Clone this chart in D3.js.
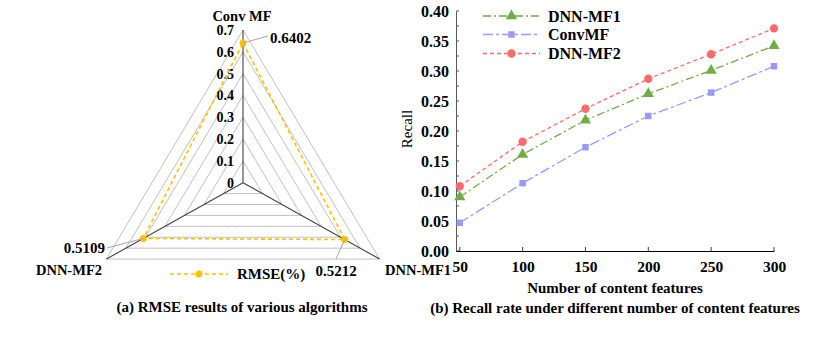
<!DOCTYPE html>
<html><head><meta charset="utf-8">
<script src="https://cdn.jsdelivr.net/npm/d3@7/dist/d3.min.js"></script>
<style>
body{margin:0;background:#fff;}
svg text{font-family:"Liberation Serif","Times New Roman","DejaVu Serif",serif;}
</style></head>
<body><svg id="c" width="814" height="358"></svg>
<script>
// ---------- data ----------
const radarCategories = ["Conv MF", "DNN-MF1", "DNN-MF2"];
const radarValues = [0.6402, 0.5212, 0.5109];
const radarTicks = [0, 0.1, 0.2, 0.3, 0.4, 0.5, 0.6, 0.7];
const radarSeriesName = "RMSE(%)";

const featureCounts = [50, 100, 150, 200, 250, 300];
const recallDNNMF1 = [0.090, 0.161, 0.218, 0.262, 0.301, 0.342];
const recallConvMF = [0.047, 0.113, 0.173, 0.225, 0.264, 0.308];
const recallDNNMF2 = [0.108, 0.182, 0.237, 0.287, 0.328, 0.371];
const recallTicks = [0, 0.05, 0.1, 0.15, 0.2, 0.25, 0.3, 0.35, 0.4];
const seriesNames = ["DNN-MF1", "ConvMF", "DNN-MF2"];

const FONT = '"Liberation Serif","Times New Roman","DejaVu Serif",serif';
const svg = d3.select("#c").attr("font-family", FONT);

// ---------- (a) radar ----------
const cx = 243, cy = 182.7, R = 152.7, kx = 1.033;
const rScale = d3.scaleLinear().domain([0, 0.7]).range([0, R]);
const ang = i => i * 2 * Math.PI / 3;
const pt = (i, v) => [cx + rScale(v) * Math.sin(ang(i)) * kx, cy - rScale(v) * Math.cos(ang(i))];

const ga = svg.append("g");
// grid triangles
radarTicks.slice(1).forEach(t => {
  ga.append("path")
    .attr("d", d3.line()([0,1,2,0].map(i => pt(i, t))))
    .attr("fill", "none").attr("stroke", "#c0c0c0").attr("stroke-width", 1);
});
// spokes
[0,1,2].forEach(i => {
  const p = pt(i, 0.7);
  ga.append("line").attr("x1", cx).attr("y1", cy).attr("x2", p[0]).attr("y2", p[1])
    .attr("stroke", "#404040").attr("stroke-width", 1.1);
});
// tick labels
radarTicks.forEach(t => {
  ga.append("text").attr("x", cx - 9).attr("y", cy - rScale(t) + 5)
    .attr("text-anchor", "end").attr("font-size", 14).attr("font-weight", "bold")
    .text(d3.format("")(t));
});
// category labels
const catPos = [[242, 21, "middle"], [385, 275, "start"], [102, 275, "end"]];
radarCategories.forEach((c, i) => {
  ga.append("text").attr("x", catPos[i][0]).attr("y", catPos[i][1])
    .attr("text-anchor", catPos[i][2]).attr("font-size", 14.5).attr("font-weight", "bold").text(c);
});
// series
const yellow = "#FFC000";
ga.append("path")
  .attr("d", d3.line()([0,1,2,0].map(i => pt(i, radarValues[i]))))
  .attr("fill", "none").attr("stroke", yellow).attr("stroke-width", 1.6).attr("stroke-dasharray", "4,3");
radarValues.forEach((v, i) => {
  const p = pt(i, v);
  ga.append("circle").attr("cx", p[0]).attr("cy", p[1]).attr("r", 3.5).attr("fill", yellow);
});
// data labels with leader lines
const lblDefs = [
  {lx: 268, ly: 36, tx: 270, ty: 43, anchor: "start"},
  {lx: 336, ly: 259, tx: 336, ty: 276, anchor: "middle"},
  {lx: 107, ly: 248, tx: 105, ty: 253, anchor: "end"}
];
radarValues.forEach((v, i) => {
  const p = pt(i, v), d = lblDefs[i];
  ga.append("line").attr("x1", p[0]).attr("y1", p[1]).attr("x2", d.lx).attr("y2", d.ly)
    .attr("stroke", "#a6a6a6").attr("stroke-width", 1);
  ga.append("text").attr("x", d.tx).attr("y", d.ty).attr("text-anchor", d.anchor)
    .attr("font-size", 15).attr("font-weight", "bold").text(d3.format(".4f")(v));
});
// legend
ga.append("line").attr("x1", 170).attr("y1", 274).attr("x2", 228).attr("y2", 274)
  .attr("stroke", yellow).attr("stroke-width", 1.6).attr("stroke-dasharray", "4,3");
ga.append("circle").attr("cx", 199).attr("cy", 274).attr("r", 3.5).attr("fill", yellow);
ga.append("text").attr("x", 237).attr("y", 279).attr("font-size", 15).attr("font-weight", "bold").text(radarSeriesName);
// caption
ga.append("text").attr("x", 242).attr("y", 312).attr("text-anchor", "middle")
  .attr("font-size", 15).attr("font-weight", "bold").text("(a) RMSE results of various algorithms");

// ---------- (b) line chart ----------
const x = d3.scaleLinear().domain([47, 300]).range([456, 774]);
const y = d3.scaleLinear().domain([0, 0.4]).range([251, 11]);
const gb = svg.append("g");

// y axis
const yAxis = d3.axisLeft(y).tickValues(recallTicks).tickSize(0).tickPadding(7).tickFormat(d3.format(".2f"));
const ya = gb.append("g").attr("transform", "translate(456,0)").call(yAxis).attr("font-family", FONT);
ya.select(".domain").attr("stroke", "#595959");
ya.selectAll("text").attr("font-size", 16).attr("font-weight", "bold").attr("fill", "#000").attr("dy", "0.35em");
// inner ticks major & minor
d3.range(0, 0.4001, 0.025).forEach(t => {
  gb.append("line").attr("x1", 456).attr("x2", 459).attr("y1", y(t)).attr("y2", y(t))
    .attr("stroke", "#595959").attr("stroke-width", 1);
});
// x axis
const xAxis = d3.axisBottom(x).tickValues(featureCounts).tickSize(0).tickPadding(10).tickFormat(d3.format("d"));
const xa = gb.append("g").attr("transform", "translate(0,251)").call(xAxis).attr("font-family", FONT);
xa.select(".domain").attr("stroke", "#000");
xa.selectAll("text").attr("font-size", 15.5).attr("font-weight", "bold").attr("fill", "#000").attr("dy", "0.71em");
featureCounts.forEach(f => {
  gb.append("line").attr("x1", x(f)).attr("x2", x(f)).attr("y1", 251).attr("y2", 247)
    .attr("stroke", "#404040").attr("stroke-width", 1);
});

// series
const series = [
  {name: seriesNames[0], vals: recallDNNMF1, color: "#70AD47", dash: "8,3,2,3", marker: "triangle"},
  {name: seriesNames[1], vals: recallConvMF, color: "#9999FF", dash: "10,3,3,3", marker: "square"},
  {name: seriesNames[2], vals: recallDNNMF2, color: "#FF6B6B", dash: "4,3", marker: "circle"}
];
const symType = {triangle: d3.symbolTriangle, square: d3.symbolSquare, circle: d3.symbolCircle};
const symSize = {triangle: 55, square: 42, circle: 55};
const lineGen = d3.line().x(d => x(d[0])).y(d => y(d[1]));
series.forEach(s => {
  const pts = featureCounts.map((f, i) => [f, s.vals[i]]);
  gb.append("path").attr("d", lineGen(pts)).attr("fill", "none")
    .attr("stroke", s.color).attr("stroke-width", 1.3).attr("stroke-dasharray", s.dash);
  pts.forEach(p => {
    gb.append("path").attr("d", d3.symbol().type(symType[s.marker]).size(symSize[s.marker])())
      .attr("transform", `translate(${x(p[0])},${y(p[1])})`).attr("fill", s.color);
  });
});
// legend
const legY = [16, 34.5, 53.5];
series.forEach((s, i) => {
  gb.append("line").attr("x1", 483).attr("x2", 540).attr("y1", legY[i]).attr("y2", legY[i])
    .attr("stroke", s.color).attr("stroke-width", 1.3).attr("stroke-dasharray", s.dash);
  gb.append("path").attr("d", d3.symbol().type(symType[s.marker]).size(symSize[s.marker])())
    .attr("transform", `translate(511.5,${legY[i]})`).attr("fill", s.color);
  gb.append("text").attr("x", 548).attr("y", legY[i] + 5.5).attr("font-size", 16).attr("font-weight", "bold").text(s.name);
});
// axis titles
gb.append("text").attr("transform", "translate(412,129) rotate(-90)").attr("text-anchor", "middle")
  .attr("font-size", 15).text("Recall");
gb.append("text").attr("x", 615).attr("y", 293).attr("text-anchor", "middle")
  .attr("font-size", 15).attr("font-weight", "bold").text("Number of content features");
gb.append("text").attr("x", 615).attr("y", 313).attr("text-anchor", "middle")
  .attr("font-size", 15).attr("font-weight", "bold").text("(b) Recall rate under different number of content features");
</script></body></html>
